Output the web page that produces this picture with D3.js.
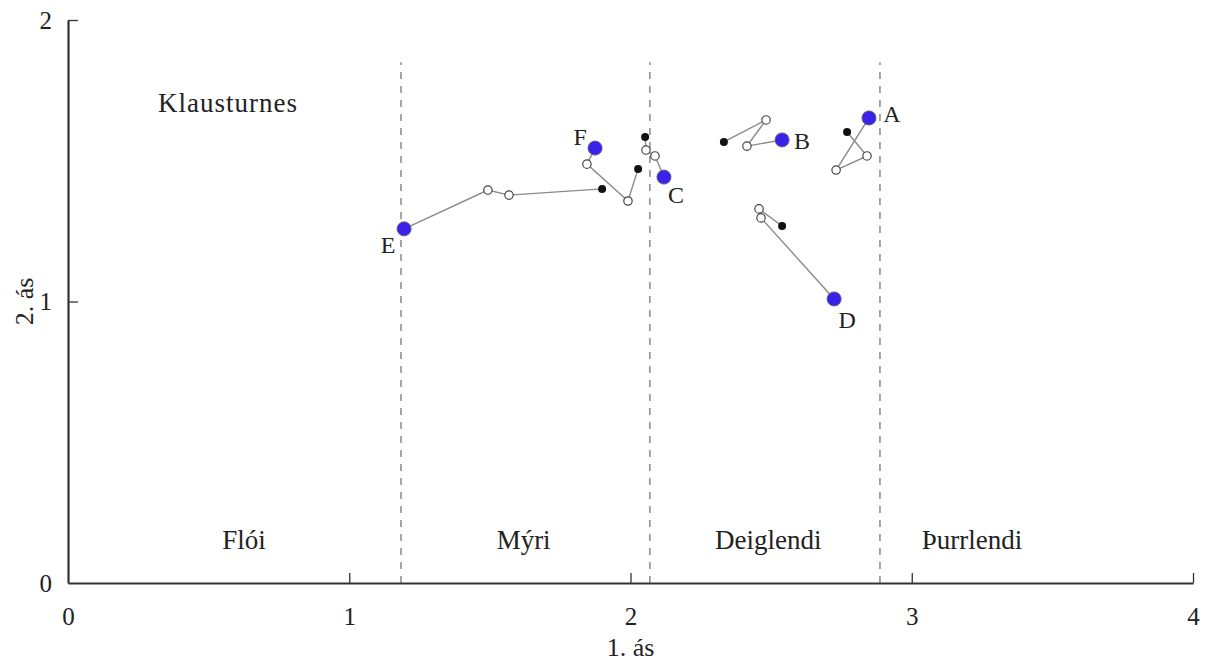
<!DOCTYPE html>
<html><head><meta charset="utf-8">
<script src="https://cdn.jsdelivr.net/npm/d3@7"></script>
<style>body{margin:0;background:#fff}svg{display:block}text{font-family:"Liberation Serif","Times New Roman",serif;fill:#222}</style>
</head><body><svg id="c" width="1209" height="661"></svg>
<script>
const xTicks=[0,1,2,3,4];
const yTicks=[0,1,2];
const boundaries=[1.184,2.069,2.887];
const zoneNames=["Flói","Mýri","Deiglendi","Þurrlendi"];
const zoneX=[0.626,1.62,2.49,3.214];
const zoneY=0.153;
const siteName="Klausturnes";
const siteX=0.569, siteY=1.705;
const seriesNames=["A","B","C","D","E","F"];
// each series: first point (black), two intermediate (open), last (blue)
const seriesX=[
 [2.770,2.841,2.731,2.848],
 [2.332,2.482,2.414,2.539],
 [2.052,2.055,2.087,2.119],
 [2.539,2.457,2.464,2.724],
 [1.899,1.568,1.493,1.195],
 [2.027,1.991,1.845,1.874]
];
const seriesY=[
 [1.602,1.517,1.467,1.652],
 [1.567,1.645,1.552,1.574],
 [1.584,1.538,1.517,1.442],
 [1.268,1.329,1.297,1.009],
 [1.400,1.378,1.396,1.258],
 [1.471,1.357,1.488,1.545]
];
const labelDx=[23,20,12,13,-16,-15];
const labelDy=[-4,1,18,21,16,-11];

const svg=d3.select("#c");
const x=d3.scaleLinear().domain([0,4]).range([68,1193]);
const y=d3.scaleLinear().domain([0,2]).range([583,20]);

// dashed boundaries
svg.selectAll("line.b").data(boundaries).join("line")
 .attr("x1",d=>x(d)).attr("x2",d=>x(d)).attr("y1",y(0)).attr("y2",y(1.85))
 .attr("stroke","#777").attr("stroke-width",1.3).attr("stroke-dasharray","7,7");

// axes
const xa=svg.append("g").attr("transform",`translate(0,${y(0)})`)
 .call(d3.axisBottom(x).tickValues(xTicks).tickFormat(d3.format("d")).tickSizeInner(-10).tickSizeOuter(0).tickPadding(24));
const ya=svg.append("g").attr("transform",`translate(${x(0)},0)`)
 .call(d3.axisLeft(y).tickValues(yTicks).tickFormat(d3.format("d")).tickSizeInner(-10).tickSizeOuter(0).tickPadding(16));
[xa,ya].forEach(g=>{
 g.attr("font-size",25).attr("font-family","Liberation Serif, serif");
 g.select(".domain").attr("stroke","#333").attr("stroke-width",2.2);
 g.selectAll(".tick line").attr("stroke","#333").attr("stroke-width",1.3);
 g.selectAll(".tick text").attr("fill","#222");
});
xa.selectAll(".tick").filter(d=>d===0).select("line").remove();
ya.selectAll(".tick").filter(d=>d===0).select("line").remove();

// axis titles
svg.append("text").attr("x",x(2)).attr("y",656).attr("text-anchor","middle").attr("font-size",26).text("1. ás");
svg.append("text").attr("transform",`translate(33,${y(1)}) rotate(-90)`).attr("text-anchor","middle").attr("font-size",26).text("2. ás");

// zone labels
svg.selectAll("text.z").data(zoneNames).join("text")
 .attr("x",(d,i)=>x(zoneX[i])).attr("y",y(zoneY)).attr("dy","0.35em")
 .attr("text-anchor","middle").attr("font-size",27).text(d=>d);
svg.append("text").attr("x",x(siteX)).attr("y",y(siteY)).attr("dy","0.35em").attr("text-anchor","middle")
 .attr("font-size",27).attr("letter-spacing",1).text(siteName);

// trajectories
const line=d3.line().x(d=>x(d[0])).y(d=>y(d[1]));
seriesNames.forEach((name,i)=>{
 const pts=seriesX[i].map((v,j)=>[v,seriesY[i][j]]);
 svg.append("path").attr("d",line(pts)).attr("fill","none").attr("stroke","#8a8a8a").attr("stroke-width",1.4);
 pts.forEach((p,j)=>{
  const c=svg.append("circle").attr("cx",x(p[0])).attr("cy",y(p[1]));
  if(j===0) c.attr("r",4).attr("fill","#111");
  else if(j===pts.length-1) c.attr("r",7).attr("fill","#3a22e8").attr("stroke","#5a5a8a").attr("stroke-width",1);
  else c.attr("r",4.2).attr("fill","#fff").attr("stroke","#444").attr("stroke-width",1.2);
 });
 const last=pts[pts.length-1];
 svg.append("text").attr("x",x(last[0])+labelDx[i]).attr("y",y(last[1])+labelDy[i]).attr("dy","0.35em")
  .attr("text-anchor","middle").attr("font-size",24).text(name);
});
</script></body></html>
